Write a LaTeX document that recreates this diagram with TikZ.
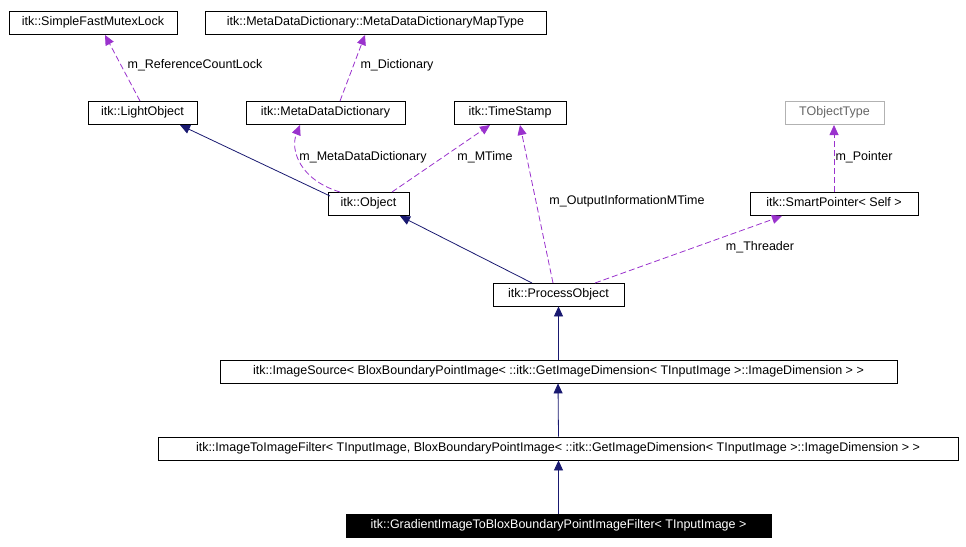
\documentclass[tikz,border=0pt]{standalone}
\usepackage{fontspec}
\setmainfont{Liberation Sans}
\usetikzlibrary{arrows.meta}
\definecolor{inh}{HTML}{191970}
\definecolor{use}{HTML}{9A32CD}
\begin{document}
\begin{tikzpicture}[x=1pt,y=-1pt,font=\fontsize{12.5}{14}\selectfont,line width=0.8pt,
  box/.style={draw=black,fill=white,minimum height=23pt,inner sep=0pt,anchor=center,text height=9pt,text depth=2.5pt},
  inhe/.style={draw=inh,-{Triangle[length=10pt,width=9pt,fill=inh]}},
  usee/.style={draw=use,dashed,dash pattern=on 6pt off 3pt,-{Triangle[length=10pt,width=9pt,fill=use]}},
  lab/.style={inner sep=1pt}]
\useasboundingbox (0,0) rectangle (966,546);
\node[box,minimum width=168pt] (mutex) at (93,22.5) {itk::SimpleFastMutexLock};
\node[box,minimum width=341pt] (map) at (375.5,22.5) {itk::MetaDataDictionary::MetaDataDictionaryMapType};
\node[box,minimum width=109pt] (light) at (142.5,112.5) {itk::LightObject};
\node[box,minimum width=159pt] (mdd) at (325.5,112.5) {itk::MetaDataDictionary};
\node[box,minimum width=112pt] (ts) at (510,112.5) {itk::TimeStamp};
\node[box,draw=gray!60,minimum width=99pt,text=gray!80!black] (tobj) at (834.5,112.5) {TObjectType};
\node[box,minimum width=81pt] (obj) at (368.5,203.5) {itk::Object};
\node[box,minimum width=168pt] (sp) at (834,203.5) {itk::SmartPointer< Self >};
\node[box,minimum width=131pt] (po) at (558.5,294.5) {itk::ProcessObject};
\node[box,minimum width=677pt] (is) at (558.5,371.5) {itk::ImageSource< BloxBoundaryPointImage< ::itk::GetImageDimension< TInputImage >::ImageDimension > >};
\node[box,minimum width=800pt] (itif) at (558,448.5) {itk::ImageToImageFilter< TInputImage, BloxBoundaryPointImage< ::itk::GetImageDimension< TInputImage >::ImageDimension > >};
\node[box,fill=black,text=white,minimum width=425pt] (grad) at (558.5,525.5) {itk::GradientImageToBloxBoundaryPointImageFilter< TInputImage >};

\draw[usee] (140,101) -- (105,35);
\node[lab] (l1) at (195,65) {m\_ReferenceCountLock};
\draw[usee] (340,101) -- (365,35);
\node[lab] (l2) at (397,65) {m\_Dictionary};
\draw[inhe] (330,196) -- (180,125);
\draw[usee] (340,192) .. controls (300,180) and (290,150) .. (300,125);
\node[lab] (l3) at (363,157) {m\_MetaDataDictionary};
\draw[usee] (392,192) -- (490,125);
\node[lab] (l4) at (485,157) {m\_MTime};
\draw[usee] (553,283) -- (520,125);
\node[lab] (l5) at (627,201) {m\_OutputInformationMTime};
\draw[inhe] (532,283) -- (400,216);
\draw[usee] (834,192) -- (834,125);
\node[lab] (l6) at (864,157) {m\_Pointer};
\draw[usee] (595,283) -- (782,216);
\node[lab] (l7) at (760,247) {m\_Threader};
\draw[inhe] (is.north -| po.south) -- (po.south);
\draw[inhe] (itif.north -| is.south) -- (is.south -| itif.north);
\draw[inhe] (grad.north) -- (grad.north |- itif.south);
\end{tikzpicture}
\end{document}
